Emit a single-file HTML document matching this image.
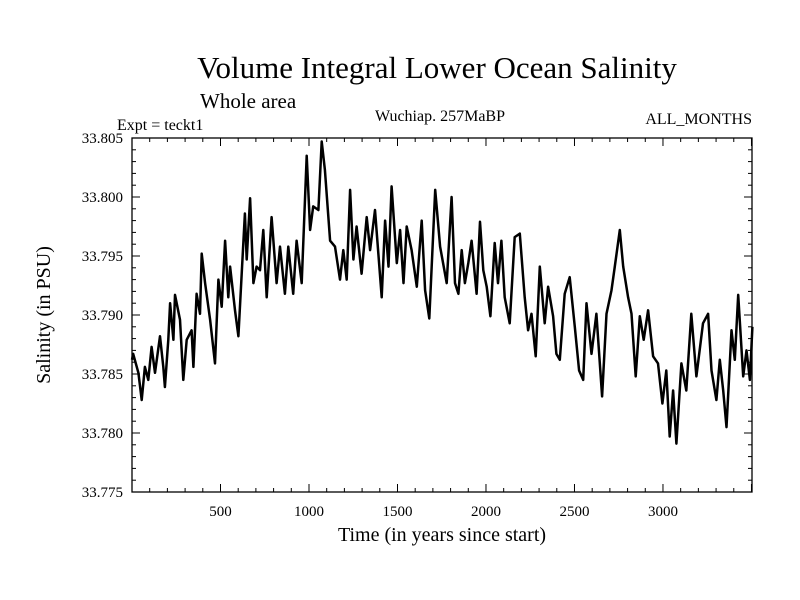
<!DOCTYPE html>
<html><head><meta charset="utf-8"><style>
body{margin:0;background:#fff;}
svg{display:block;font-family:"Liberation Serif",serif;}
</style></head><body>
<svg id="chart" width="800" height="600" viewBox="0 0 800 600">
<rect width="800" height="600" fill="#fff"/>
<text x="437" y="78" font-size="31" text-anchor="middle">Volume Integral Lower Ocean Salinity</text>
<text x="200" y="108" font-size="21">Whole area</text>
<text x="117" y="130" font-size="16">Expt = teckt1</text>
<text x="440" y="121" font-size="16" text-anchor="middle">Wuchiap. 257MaBP</text>
<text x="752" y="124" font-size="16" text-anchor="end">ALL_MONTHS</text>
<text x="442" y="541" font-size="20" text-anchor="middle">Time (in years since start)</text>
<text transform="translate(50,315) rotate(-90)" font-size="20" text-anchor="middle">Salinity (in PSU)</text>
<g id="axes"></g>
<path id="series" fill="none" stroke="#000" stroke-width="2.5" stroke-linejoin="round"/>
<rect x="132" y="138" width="620" height="354" fill="none" stroke="#000" stroke-width="1.3"/>
</svg>
<script>
const years=[0,7,36,55,73,92,111,130,158,177,186,205,215,234,243,271,290,309,337,347,365,384,394,413,441,469,488,507,526,544,554,582,601,620,638,648,667,686,704,723,742,761,789,817,836,864,883,911,930,959,987,1006,1024,1053,1072,1090,1119,1147,1175,1194,1213,1232,1251,1269,1297,1326,1345,1373,1411,1430,1449,1467,1496,1515,1534,1552,1580,1609,1637,1656,1680,1713,1741,1778,1806,1825,1844,1863,1881,1900,1919,1947,1966,1985,2004,2025,2049,2068,2087,2106,2134,2162,2191,2219,2238,2257,2281,2304,2332,2351,2379,2398,2417,2445,2473,2502,2526,2549,2568,2596,2624,2656,2681,2709,2728,2756,2775,2803,2822,2846,2869,2891,2916,2944,2972,2997,3019,3038,3057,3076,3104,3132,3160,3189,3226,3255,3274,3302,3321,3340,3359,3387,3406,3425,3453,3472,3491,3505];
const salinity=[33.7862,33.7867,33.7851,33.7828,33.7856,33.7845,33.7873,33.7851,33.7882,33.7856,33.7839,33.7879,33.7910,33.7879,33.7917,33.7896,33.7845,33.7879,33.7887,33.7856,33.7918,33.7901,33.7952,33.7927,33.7896,33.7859,33.7930,33.7907,33.7963,33.7915,33.7941,33.7904,33.7882,33.7935,33.7986,33.7947,33.7999,33.7927,33.7941,33.7938,33.7972,33.7915,33.7983,33.7927,33.7958,33.7918,33.7958,33.7918,33.7963,33.7927,33.8035,33.7972,33.7992,33.7989,33.8047,33.8023,33.7963,33.7958,33.7930,33.7955,33.7930,33.8006,33.7947,33.7975,33.7935,33.7983,33.7955,33.7989,33.7915,33.7980,33.7941,33.8009,33.7944,33.7972,33.7927,33.7975,33.7955,33.7924,33.7980,33.7921,33.7897,33.8006,33.7958,33.7927,33.8000,33.7927,33.7918,33.7955,33.7927,33.7944,33.7963,33.7918,33.7979,33.7938,33.7924,33.7899,33.7961,33.7927,33.7963,33.7915,33.7893,33.7966,33.7969,33.7915,33.7887,33.7901,33.7865,33.7941,33.7893,33.7924,33.7899,33.7867,33.7862,33.7918,33.7932,33.7890,33.7853,33.7845,33.7910,33.7867,33.7901,33.7831,33.7901,33.7921,33.7941,33.7972,33.7941,33.7915,33.7901,33.7848,33.7899,33.7879,33.7904,33.7865,33.7859,33.7825,33.7853,33.7797,33.7836,33.7791,33.7859,33.7836,33.7901,33.7848,33.7893,33.7901,33.7853,33.7828,33.7862,33.7836,33.7805,33.7887,33.7862,33.7917,33.7848,33.7870,33.7845,33.7890];
const xTicks=[500,1000,1500,2000,2500,3000];
const yTicks=[33.775,33.780,33.785,33.790,33.795,33.800,33.805];
const xMin=0,xMax=3503,yMin=33.775,yMax=33.805;
const L=132,R=752,T=138,B=492;
const sx=v=>L+(v-xMin)/(xMax-xMin)*(R-L);
const sy=v=>B-(v-yMin)/(yMax-yMin)*(B-T);
const NS='http://www.w3.org/2000/svg';
const g=document.getElementById('axes');
function line(x1,y1,x2,y2,name){const l=document.createElementNS(NS,'line');l.setAttribute('x1',x1);l.setAttribute('y1',y1);l.setAttribute('x2',x2);l.setAttribute('y2',y2);l.setAttribute('stroke','#000');l.setAttribute('stroke-width','1');


g.appendChild(l);}
function text(x,y,s,anchor,name){const t=document.createElementNS(NS,'text');t.setAttribute('x',x);t.setAttribute('y',y);t.setAttribute('font-size','15');t.setAttribute('text-anchor',anchor);t.textContent=s;


g.appendChild(t);}
for(let v=100;v<xMax;v+=100){const x=sx(v);const major=v%500===0;const len=major?8:4;
line(x,B,x,B-len,'x-tick');line(x,T,x,T+len,'x-tick-top');}
xTicks.forEach(v=>text(sx(v),516,String(v),'middle','x-tick-label'));
for(let i=0;i<=30;i++){const v=yMin+i*0.001;const y=sy(v);const major=i%5===0;const len=major?8:4;
line(L,y,L+len,y,'y-tick');line(R,y,R-len,y,'y-tick-right');}
yTicks.forEach(v=>text(123,sy(v)+5,v.toFixed(3),'end','y-tick-label'));
let d='';years.forEach((yr,i)=>{d+=(i?'L':'M')+sx(yr).toFixed(1)+','+sy(salinity[i]).toFixed(1);});
document.getElementById('series').setAttribute('d',d);
</script>
</body></html>
